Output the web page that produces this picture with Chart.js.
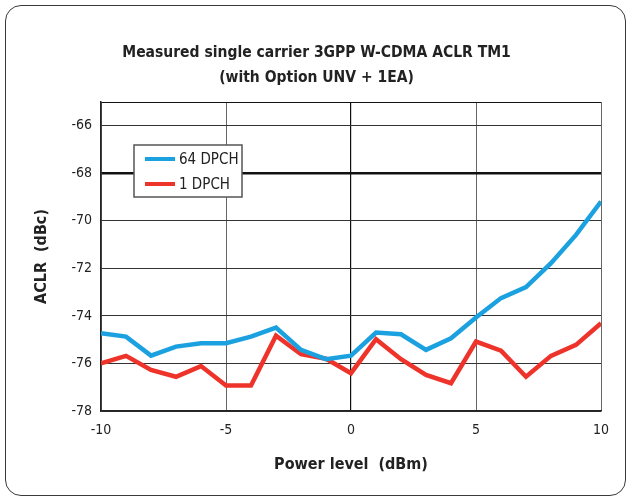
<!DOCTYPE html>
<html>
<head>
<meta charset="utf-8">
<script src="https://cdn.jsdelivr.net/npm/chart.js@4"></script>
<style>
  html, body { margin: 0; padding: 0; background: #fff; }
  #wrap { position: relative; width: 632px; height: 502px; }
  #frame {
    position: absolute; left: 5px; top: 5px; width: 619px; height: 489px;
    border: 1.5px solid #3a3a3a; border-radius: 16px; box-sizing: content-box;
  }
  canvas { position: absolute; left: 0; top: 0; }
</style>
</head>
<body>
<div id="wrap">
  <div id="frame"></div>
  <canvas id="chart" width="632" height="502"></canvas>
</div>
<script>
const FONT = '"Liberation Sans Narrow", "DejaVu Sans Condensed", "Arial Narrow", sans-serif';

const powerLevels = [-10, -9, -8, -7, -6, -5, -4, -3, -2, -1, 0, 1, 2, 3, 4, 5, 6, 7, 8, 9, 10];
const dpch64 = [-74.73, -74.87, -75.67, -75.29, -75.15, -75.15, -74.87, -74.49, -75.43, -75.82, -75.67,
                -74.70, -74.77, -75.43, -74.94, -74.07, -73.25, -72.79, -71.78, -70.59, -69.19];
const dpch1 = [-75.99, -75.68, -76.27, -76.56, -76.11, -76.93, -76.93, -74.83, -75.61, -75.80, -76.41,
               -74.98, -75.82, -76.48, -76.83, -75.08, -75.46, -76.56, -75.68, -75.22, -74.31];

const BLUE = 'rgb(27, 161, 224)';
const RED = 'rgb(238, 52, 42)';

// legend box sits inside the plot, so draw it ourselves
const insideLegend = {
  id: 'insideLegend',
  afterDraw(chart) {
    const { ctx, chartArea } = chart;
    const x = chartArea.left + 33, y = chartArea.top + 43;
    ctx.save();
    ctx.fillStyle = '#fff';
    ctx.fillRect(x, y, 108, 52);
    ctx.strokeStyle = '#555';
    ctx.lineWidth = 1.5;
    ctx.strokeRect(x, y, 108, 52);
    ctx.font = '15px ' + FONT;
    ctx.textBaseline = 'middle';
    chart.data.datasets.forEach((ds, i) => {
      const ly = y + 14 + i * 25;
      ctx.strokeStyle = ds.borderColor;
      ctx.lineWidth = 4;
      ctx.beginPath();
      ctx.moveTo(x + 11, ly);
      ctx.lineTo(x + 41, ly);
      ctx.stroke();
      ctx.fillStyle = '#222';
      ctx.fillText(ds.label, x + 45, ly + 1);
    });
    ctx.restore();
  }
};

new Chart(document.getElementById('chart'), {
  type: 'line',
  data: {
    datasets: [
      {
        label: '64 DPCH',
        data: powerLevels.map((p, i) => ({ x: p, y: dpch64[i] })),
        borderColor: BLUE,
        borderWidth: 4.5,
        pointRadius: 0,
        tension: 0
      },
      {
        label: '1 DPCH',
        data: powerLevels.map((p, i) => ({ x: p, y: dpch1[i] })),
        borderColor: RED,
        borderWidth: 4.5,
        pointRadius: 0,
        tension: 0
      }
    ]
  },
  options: {
    responsive: false,
    animation: false,
    layout: { padding: { left: 32, right: 31, top: 40, bottom: 28 } },
    plugins: {
      legend: { display: false },
      tooltip: { enabled: false },
      title: {
        display: true,
        text: ['Measured single carrier 3GPP W-CDMA ACLR TM1', '(with Option UNV + 1EA)'],
        color: '#222',
        font: { family: FONT, size: 15.5, weight: 'bold', lineHeight: '25px' },
        padding: { top: 0, bottom: 12 }
      }
    },
    scales: {
      x: {
        type: 'linear',
        min: -10,
        max: 10,
        afterFit: s => { s.height = 63; },
        ticks: { stepSize: 5, color: '#222', padding: 11, font: { family: FONT, size: 14 } },
        grid: {
          drawTicks: false,
          color: c => c.tick.value === 0 ? '#111' : '#666',
          lineWidth: c => c.tick.value === 0 ? 1.2 : 1
        },
        border: { display: true, color: '#222', width: 1.5 },
        title: {
          display: true,
          text: 'Power level  (dBm)',
          color: '#222',
          padding: 0,
          font: { family: FONT, size: 16, weight: 'bold' }
        }
      },
      y: {
        min: -78,
        max: -65,
        afterFit: s => { s.width = 69; },
        ticks: {
          stepSize: 2,
          color: '#222',
          padding: 9,
          font: { family: FONT, size: 14 },
          callback: v => v === -65 ? '' : v
        },
        grid: {
          drawTicks: false,
          color: c => c.tick.value === -68 || c.tick.value === -65 ? '#111' : '#333',
          lineWidth: c => c.tick.value === -68 ? 2.5 : 1
        },
        border: { display: true, color: '#222', width: 1.5 },
        title: {
          display: true,
          text: 'ACLR  (dBc)',
          color: '#222',
          padding: 0,
          font: { family: FONT, size: 16, weight: 'bold' }
        }
      }
    }
  },
  plugins: [insideLegend]
});
</script>
</body>
</html>
